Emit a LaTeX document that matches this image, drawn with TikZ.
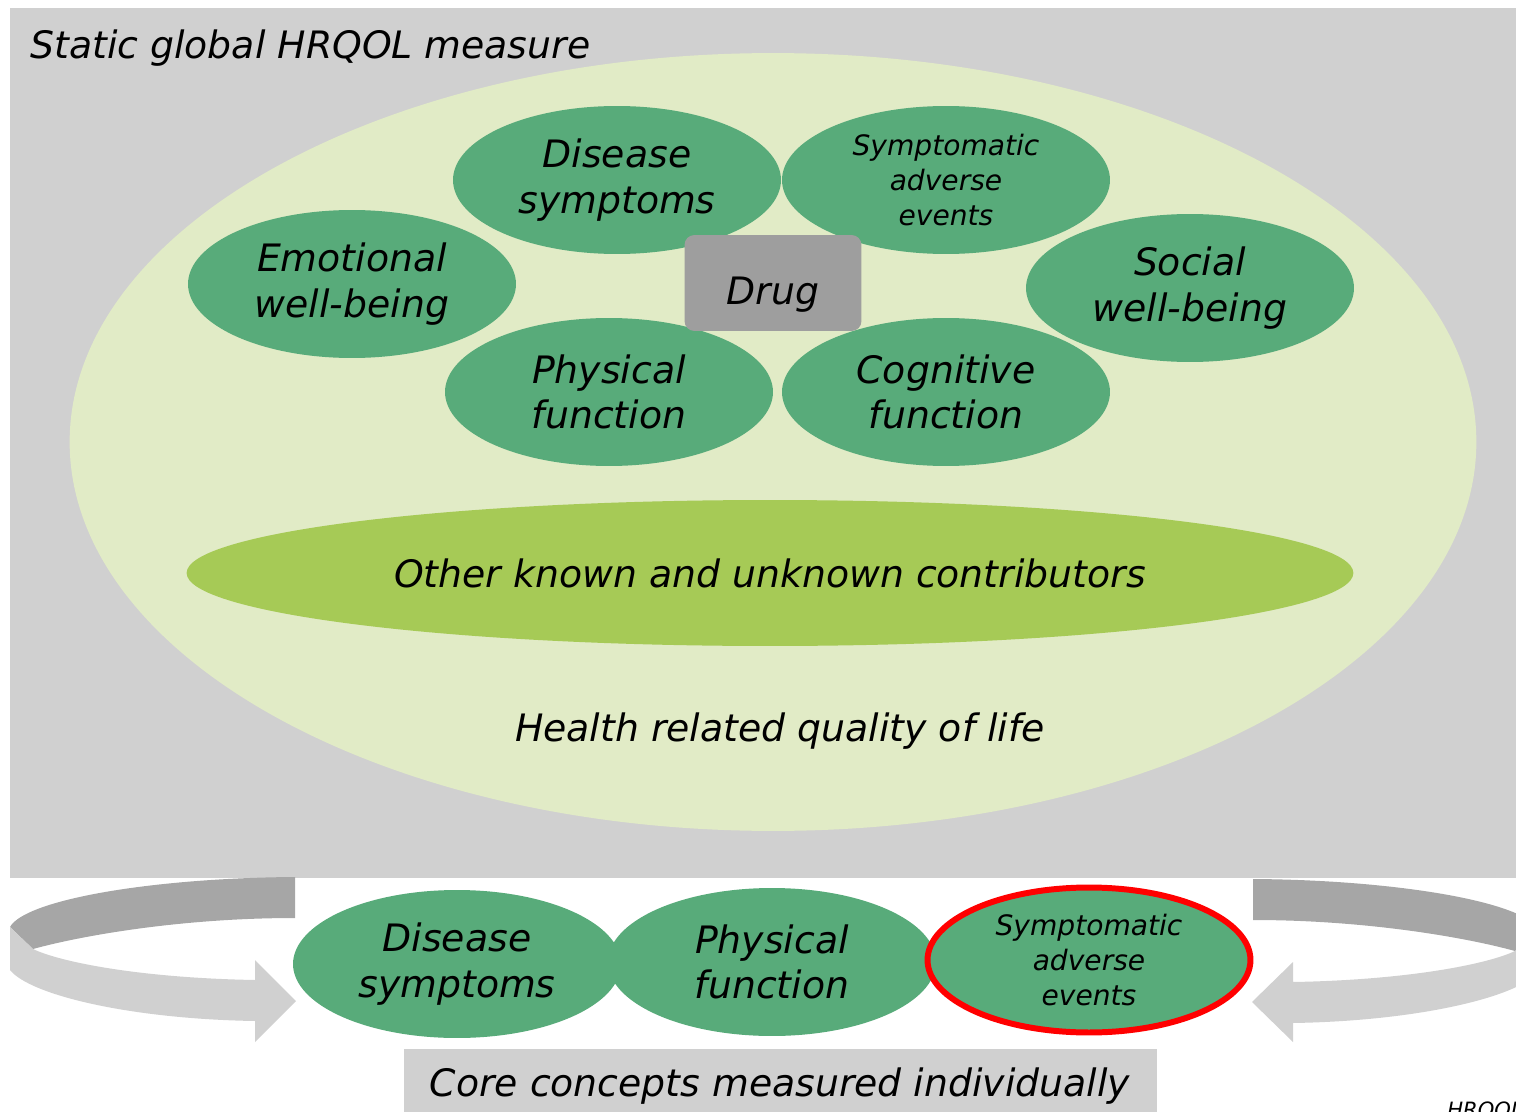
\documentclass[tikz,border=0pt]{standalone}
\usepackage{fontspec}
\setmainfont{DejaVu Sans}
\usetikzlibrary{shapes.geometric}

\definecolor{panelgray}{HTML}{D0D0D0}
\definecolor{lifegreen}{HTML}{E1EBC6}
\definecolor{conceptgreen}{HTML}{58AB7A}
\definecolor{othergreen}{HTML}{A6CA56}
\definecolor{druggray}{HTML}{9E9E9E}
\definecolor{arrowdark}{HTML}{A6A6A6}

\tikzset{
  bigtext/.style={font=\fontsize{21.5}{26}\selectfont\itshape},
  smalltext/.style={font=\fontsize{16}{20}\selectfont\itshape},
  concept/.style={ellipse, fill=conceptgreen, inner sep=0pt, align=center,
    minimum width=6.56cm, minimum height=2.96cm, bigtext},
}

\begin{document}
\begin{tikzpicture}[x=0.02cm, y=-0.02cm]
    \useasboundingbox (0,0) rectangle (1516,1112);
    \clip (0,0) rectangle (1516,1112);

    % global measure panel
    \fill[panelgray] (10,8) rectangle (1516,878);
    \node[anchor=base west, bigtext, inner sep=0pt] at (30,58) (title) {Static global HRQOL measure};
    \node[ellipse, fill=lifegreen, minimum width=28.14cm, minimum height=15.56cm] at (773,442) (hrqol) {};

    \node[concept] at (617,180) (disease) {Disease\\symptoms};
    \node[concept, smalltext] at (946,180) (adverse) {Symptomatic\\adverse\\events};
    \node[concept] at (352,284) (emotional) {Emotional\\well-being};
    \node[concept] at (1190,288) (social) {Social\\well-being};
    \node[concept] at (609,392) (physical) {Physical\\function};
    \node[concept] at (946,392) (cognitive) {Cognitive\\function};
    \node[rectangle, rounded corners=0.2cm, fill=druggray, minimum width=3.54cm, minimum height=1.92cm, text height=0.86cm, text depth=0pt, bigtext] at (773,283) (drug) {Drug};

    \node[ellipse, fill=othergreen, minimum width=23.34cm, minimum height=2.92cm, inner sep=0pt, bigtext] at (770,573) (other) {Other known and unknown contributors};
    \node[bigtext] at (780,731) (hrqollabel) {Health related quality of life};

    % curved arrows
    \fill[arrowdark] (295,877) .. controls (150,878) and (25,900) .. (10,927) -- (33,949) .. controls (80,936) and (180,918) .. (295,918) -- cycle;
    \fill[panelgray] (10,927) -- (10,970) .. controls (30,995) and (130,1019) .. (255,1021) -- (255,1042) -- (296,1001) -- (255,960) -- (255,980) .. controls (140,978) and (60,962) .. (33,949) -- cycle;
    \begin{scope}[shift={(1548,0)}, xscale=-1]
        \fill[arrowdark] (295,879) .. controls (150,880) and (25,902) .. (10,929) -- (33,951) .. controls (80,938) and (180,920) .. (295,920) -- cycle;
        \fill[panelgray] (10,929) -- (10,972) .. controls (30,997) and (130,1021) .. (255,1023) -- (255,1042) -- (296,1002) -- (255,962) -- (255,982) .. controls (140,980) and (60,964) .. (33,951) -- cycle;
    \end{scope}

    % individually measured concepts
    \node[concept] at (457,964) (disease2) {Disease\\symptoms};
    \node[concept] at (772,962) (physical2) {Physical\\function};
    \node[concept, smalltext, draw=red, line width=3.4pt, minimum width=6.46cm, minimum height=2.9cm] at (1089,960) (adverse2) {Symptomatic\\adverse\\events};

    \fill[panelgray] (404,1049) rectangle (1157,1130);
    \node[bigtext] at (780,1086) (core) {Core concepts measured individually};
    \node[anchor=north west, inner sep=0pt, font=\fontsize{12}{14}\selectfont\itshape] at (1447,1101) (note) {HRQOL};
\end{tikzpicture}
\end{document}
